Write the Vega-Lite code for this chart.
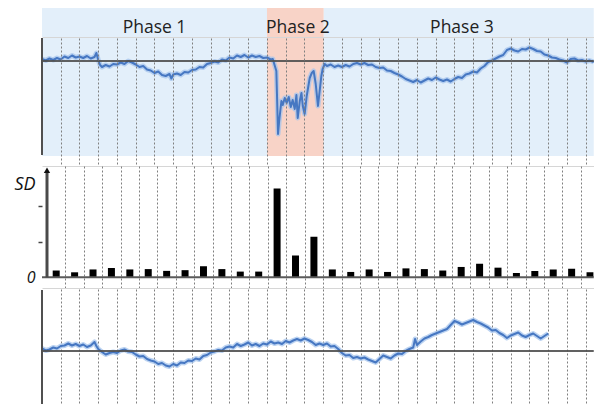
{
  "$schema": "https://vega.github.io/schema/vega-lite/v6.json",
  "background": "white",
  "padding": {"left": 13, "top": 8, "right": 0, "bottom": 0},
  "spacing": 0,
  "config": {
    "view": {"stroke": null},
    "axisX": {
      "tickCount": 30,
      "grid": true, "gridDash": [2, 2], "gridColor": "#7f7f7f", "gridWidth": 1,
      "labels": false, "ticks": false,
      "domainColor": "#d6d6d6", "domainWidth": 1
    }
  },
  "datasets": {
    "one": [{}],
    "phases": [
      {"phase": "Phase 1", "start": 0, "end": 12, "mid": 6.0},
      {"phase": "Phase 2", "start": 12, "end": 15.03, "mid": 13.65},
      {"phase": "Phase 3", "start": 15.03, "end": 29.43, "mid": 22.4}
    ],
    "upper": [
      {"t":0,"v":0.2},{"t":0.2,"v":0.05},{"t":0.4,"v":0.25},{"t":0.6,"v":0.1},{"t":0.8,"v":0.3},{"t":1,"v":0.15},{"t":1.2,"v":0.45},{"t":1.4,"v":0.3},{"t":1.6,"v":0.55},{"t":1.8,"v":0.35},
      {"t":2,"v":0.45},{"t":2.2,"v":0.3},{"t":2.4,"v":0.5},{"t":2.6,"v":0.25},{"t":2.8,"v":0.4},{"t":2.9,"v":0.8},{"t":3,"v":0.1},{"t":3.1,"v":-0.4},{"t":3.2,"v":-0.6},{"t":3.4,"v":-0.4},
      {"t":3.6,"v":-0.55},{"t":3.8,"v":-0.3},{"t":4,"v":-0.35},{"t":4.2,"v":-0.15},{"t":4.4,"v":-0.3},{"t":4.6,"v":0},{"t":4.8,"v":-0.15},{"t":5,"v":-0.35},{"t":5.2,"v":-0.6},{"t":5.4,"v":-0.5},
      {"t":5.6,"v":-0.85},{"t":5.8,"v":-0.95},{"t":6,"v":-1.2},{"t":6.2,"v":-1.05},{"t":6.4,"v":-1.4},{"t":6.6,"v":-1.5},{"t":6.8,"v":-1.3},{"t":6.9,"v":-1.75},{"t":7,"v":-1.35},{"t":7.2,"v":-1.25},
      {"t":7.4,"v":-1.4},{"t":7.6,"v":-1.1},{"t":7.8,"v":-1.15},{"t":8,"v":-0.9},{"t":8.2,"v":-0.85},{"t":8.4,"v":-0.6},{"t":8.6,"v":-0.65},{"t":8.8,"v":-0.3},{"t":9,"v":-0.2},{"t":9.2,"v":-0.05},
      {"t":9.4,"v":-0.15},{"t":9.6,"v":0.15},{"t":9.8,"v":0.05},{"t":10,"v":0.35},{"t":10.2,"v":0.25},{"t":10.4,"v":0.55},{"t":10.6,"v":0.4},{"t":10.8,"v":0.6},{"t":11,"v":0.35},{"t":11.2,"v":0.55},
      {"t":11.4,"v":0.4},{"t":11.6,"v":0.5},{"t":11.8,"v":0.3},{"t":12,"v":0.35},{"t":12.2,"v":0.15},{"t":12.31,"v":0.2},{"t":12.5,"v":-1},{"t":12.59,"v":-7.3},{"t":12.65,"v":-6},{"t":12.77,"v":-4},
      {"t":12.84,"v":-4.4},{"t":12.95,"v":-3.7},{"t":13.05,"v":-4.2},{"t":13.16,"v":-3.6},{"t":13.27,"v":-4.6},{"t":13.37,"v":-3.9},{"t":13.48,"v":-4.8},{"t":13.57,"v":-3.4},{"t":13.64,"v":-5.7},{"t":13.75,"v":-4},
      {"t":13.84,"v":-3.2},{"t":13.91,"v":-4.5},{"t":14.01,"v":-5.3},{"t":14.12,"v":-3.5},{"t":14.28,"v":-1.7},{"t":14.39,"v":-1.2},{"t":14.49,"v":-1},{"t":14.6,"v":-2.3},{"t":14.72,"v":-4.5},{"t":14.81,"v":-3},
      {"t":14.9,"v":-1.5},{"t":14.97,"v":-0.8},{"t":15.08,"v":-0.3},{"t":15.2,"v":-0.5},{"t":15.4,"v":-0.35},{"t":15.6,"v":-0.6},{"t":15.8,"v":-0.45},{"t":16,"v":-0.6},{"t":16.2,"v":-0.4},{"t":16.4,"v":-0.55},
      {"t":16.6,"v":-0.3},{"t":16.8,"v":-0.2},{"t":17,"v":-0.35},{"t":17.2,"v":-0.2},{"t":17.4,"v":-0.4},{"t":17.6,"v":-0.35},{"t":17.8,"v":-0.6},{"t":18,"v":-0.7},{"t":18.2,"v":-0.65},{"t":18.4,"v":-0.95},
      {"t":18.6,"v":-1},{"t":18.8,"v":-1.2},{"t":19,"v":-1.35},{"t":19.2,"v":-1.55},{"t":19.4,"v":-1.8},{"t":19.6,"v":-1.95},{"t":19.8,"v":-2.1},{"t":20,"v":-1.9},{"t":20.2,"v":-2.15},{"t":20.4,"v":-1.95},
      {"t":20.6,"v":-1.75},{"t":20.8,"v":-1.9},{"t":21,"v":-1.65},{"t":21.2,"v":-1.85},{"t":21.4,"v":-2},{"t":21.6,"v":-1.85},{"t":21.8,"v":-2.05},{"t":22,"v":-1.8},{"t":22.2,"v":-1.6},{"t":22.4,"v":-1.7},
      {"t":22.6,"v":-1.35},{"t":22.8,"v":-1.25},{"t":23,"v":-1.05},{"t":23.2,"v":-1.15},{"t":23.4,"v":-0.75},{"t":23.6,"v":-0.5},{"t":23.8,"v":-0.1},{"t":24,"v":0.05},{"t":24.2,"v":0.25},{"t":24.4,"v":0.45},
      {"t":24.6,"v":0.6},{"t":24.8,"v":1.1},{"t":25,"v":1.25},{"t":25.2,"v":1.05},{"t":25.4,"v":0.95},{"t":25.6,"v":1.2},{"t":25.8,"v":1.15},{"t":26,"v":1.35},{"t":26.2,"v":1.2},{"t":26.4,"v":1},
      {"t":26.6,"v":0.95},{"t":26.8,"v":0.65},{"t":27,"v":0.55},{"t":27.2,"v":0.35},{"t":27.4,"v":0.3},{"t":27.6,"v":0.15},{"t":27.8,"v":0.05},{"t":28,"v":-0.15},{"t":28.2,"v":0.2},{"t":28.4,"v":0.25},
      {"t":28.6,"v":0.05},{"t":28.8,"v":0.1},{"t":29,"v":-0.05},{"t":29.2,"v":0.05},{"t":29.43,"v":-0.1}
    ],
    "sd": [
      {"mid":0.5,"sd":0.19},{"mid":1.5,"sd":0.14},{"mid":2.5,"sd":0.22},{"mid":3.5,"sd":0.26},{"mid":4.5,"sd":0.22},
      {"mid":5.5,"sd":0.23},{"mid":6.5,"sd":0.18},{"mid":7.5,"sd":0.2},{"mid":8.5,"sd":0.31},{"mid":9.5,"sd":0.23},
      {"mid":10.5,"sd":0.16},{"mid":11.5,"sd":0.16},{"mid":12.5,"sd":2.49},{"mid":13.5,"sd":0.61},{"mid":14.5,"sd":1.14},
      {"mid":15.5,"sd":0.22},{"mid":16.5,"sd":0.15},{"mid":17.5,"sd":0.22},{"mid":18.5,"sd":0.15},{"mid":19.5,"sd":0.25},
      {"mid":20.5,"sd":0.23},{"mid":21.5,"sd":0.19},{"mid":22.5,"sd":0.29},{"mid":23.5,"sd":0.38},{"mid":24.5,"sd":0.27},
      {"mid":25.5,"sd":0.12},{"mid":26.5,"sd":0.18},{"mid":27.5,"sd":0.22},{"mid":28.5,"sd":0.24},{"mid":29.5,"sd":0.14}
    ],
    "lower": [
      {"t":0,"v":0.25},{"t":0.2,"v":0.05},{"t":0.4,"v":0.15},{"t":0.6,"v":0.35},{"t":0.8,"v":0.25},{"t":1,"v":0.5},{"t":1.2,"v":0.55},{"t":1.4,"v":0.75},{"t":1.6,"v":0.55},{"t":1.8,"v":0.7},
      {"t":2,"v":0.5},{"t":2.2,"v":0.65},{"t":2.4,"v":0.4},{"t":2.6,"v":0.55},{"t":2.8,"v":0.9},{"t":2.9,"v":0.5},{"t":3,"v":0.2},{"t":3.2,"v":-0.1},{"t":3.4,"v":-0.35},{"t":3.6,"v":-0.2},
      {"t":3.8,"v":-0.1},{"t":4,"v":-0.2},{"t":4.2,"v":0.05},{"t":4.4,"v":0.15},{"t":4.6,"v":-0.05},{"t":4.8,"v":-0.1},{"t":5,"v":-0.35},{"t":5.2,"v":-0.55},{"t":5.4,"v":-0.5},{"t":5.6,"v":-0.8},
      {"t":5.8,"v":-0.95},{"t":6,"v":-1.05},{"t":6.2,"v":-1.3},{"t":6.4,"v":-1.2},{"t":6.6,"v":-1.45},{"t":6.8,"v":-1.55},{"t":7,"v":-1.3},{"t":7.2,"v":-1.45},{"t":7.4,"v":-1.15},{"t":7.6,"v":-1.2},
      {"t":7.8,"v":-0.95},{"t":8,"v":-1},{"t":8.2,"v":-0.75},{"t":8.4,"v":-0.85},{"t":8.6,"v":-0.5},{"t":8.8,"v":-0.4},{"t":9,"v":-0.15},{"t":9.2,"v":-0.05},{"t":9.4,"v":0.1},{"t":9.6,"v":0.05},
      {"t":9.8,"v":0.35},{"t":10,"v":0.45},{"t":10.2,"v":0.35},{"t":10.4,"v":0.7},{"t":10.6,"v":0.5},{"t":10.8,"v":0.65},{"t":11,"v":0.85},{"t":11.2,"v":0.55},{"t":11.4,"v":0.7},{"t":11.6,"v":0.5},
      {"t":11.8,"v":0.75},{"t":12,"v":0.65},{"t":12.2,"v":0.95},{"t":12.4,"v":0.75},{"t":12.6,"v":0.85},{"t":12.8,"v":0.7},{"t":13,"v":1},{"t":13.2,"v":0.85},{"t":13.4,"v":1.05},{"t":13.6,"v":1.2},
      {"t":13.8,"v":1.05},{"t":14,"v":1.25},{"t":14.2,"v":1.1},{"t":14.4,"v":0.9},{"t":14.6,"v":0.6},{"t":14.8,"v":0.75},{"t":15,"v":0.6},{"t":15.2,"v":0.75},{"t":15.4,"v":0.45},{"t":15.6,"v":0.5},
      {"t":15.8,"v":0.2},{"t":16,"v":-0.2},{"t":16.2,"v":-0.45},{"t":16.4,"v":-0.4},{"t":16.6,"v":-0.7},{"t":16.8,"v":-0.6},{"t":17,"v":-0.75},{"t":17.2,"v":-0.65},{"t":17.4,"v":-0.85},{"t":17.6,"v":-1},
      {"t":17.8,"v":-1.15},{"t":18,"v":-0.8},{"t":18.2,"v":-0.45},{"t":18.4,"v":-0.6},{"t":18.6,"v":-0.75},{"t":18.8,"v":-0.45},{"t":19,"v":-0.25},{"t":19.2,"v":-0.3},{"t":19.4,"v":0},{"t":19.6,"v":0.2},
      {"t":19.8,"v":0.35},{"t":19.9,"v":1.2},{"t":20,"v":0.6},{"t":20.2,"v":0.95},{"t":20.4,"v":1.25},{"t":20.6,"v":1.4},{"t":20.8,"v":1.6},{"t":21,"v":1.75},{"t":21.2,"v":1.9},{"t":21.4,"v":2.05},
      {"t":21.6,"v":2.2},{"t":21.8,"v":2.6},{"t":22,"v":3},{"t":22.2,"v":2.85},{"t":22.4,"v":2.65},{"t":22.6,"v":2.8},{"t":22.8,"v":2.95},{"t":23,"v":3.1},{"t":23.2,"v":2.9},{"t":23.4,"v":2.75},
      {"t":23.6,"v":2.55},{"t":23.8,"v":2.35},{"t":24,"v":2.05},{"t":24.2,"v":2.1},{"t":24.4,"v":1.8},{"t":24.6,"v":1.6},{"t":24.8,"v":1.3},{"t":25,"v":1.55},{"t":25.2,"v":1.7},{"t":25.4,"v":1.85},
      {"t":25.6,"v":1.55},{"t":25.8,"v":1.4},{"t":26,"v":1.6},{"t":26.2,"v":1.75},{"t":26.4,"v":1.5},{"t":26.6,"v":1.25},{"t":26.8,"v":1.5},{"t":27,"v":1.75}
    ]
  },
  "vconcat": [
    {
      "width": 551.75, "height": 29,
      "layer": [
        {
          "data": {"name": "phases"},
          "mark": {"type": "rect"},
          "encoding": {
            "x": {"field": "start", "type": "quantitative", "title": null, "scale": {"domain": [0, 29.43], "nice": false, "zero": false}, "axis": {"title": null, "grid": false, "values": [1,2,3,4,5,6,7,8,9,10,11,12,13,14,15,16,17,18,19,20,21,22,23,24,25,26,27,28,29]}},
            "x2": {"field": "end"},
            "color": {"field": "phase", "type": "nominal", "scale": {"domain": ["Phase 1", "Phase 2", "Phase 3"], "range": ["#e3effa", "#f8d3c7", "#e3effa"]}, "legend": null}
          }
        },
        {
          "data": {"name": "phases"},
          "mark": {"type": "text", "font": "Open Sans", "fontSize": 17.5, "color": "#222222", "baseline": "alphabetic"},
          "encoding": {
            "x": {"field": "mid", "type": "quantitative", "title": null},
            "y": {"datum": 0.14, "type": "quantitative", "scale": {"domain": [0, 1], "nice": false, "zero": false}, "axis": null},
            "text": {"field": "phase"}
          }
        }
      ]
    },
    {
      "width": 551.75, "height": 128,
      "layer": [
        {
          "data": {"name": "phases"},
          "mark": {"type": "rect"},
          "encoding": {
            "x": {"field": "start", "type": "quantitative", "title": null, "scale": {"domain": [0, 29.43], "nice": false, "zero": false}, "axis": {"title": null, "zindex": 1, "values": [1,2,3,4,5,6,7,8,9,10,11,12,13,14,15,16,17,18,19,20,21,22,23,24,25,26,27,28,29]}},
            "x2": {"field": "end"},
            "y": {"datum": 2.3, "type": "quantitative", "scale": {"domain": [-10.5, 2.3], "nice": false, "zero": false}, "axis": null},
            "y2": {"datum": -9.5},
            "color": {"field": "phase", "type": "nominal", "scale": {"domain": ["Phase 1", "Phase 2", "Phase 3"], "range": ["#e3effa", "#f8d3c7", "#e3effa"]}, "legend": null}
          }
        },
        {
          "data": {"name": "upper"},
          "mark": {"type": "line", "color": "#a6c4ec", "strokeWidth": 5, "opacity": 0.75, "strokeJoin": "round"},
          "encoding": {
            "x": {"field": "t", "type": "quantitative", "title": null},
            "y": {"field": "v", "type": "quantitative", "title": null}
          }
        },
        {
          "data": {"name": "upper"},
          "mark": {"type": "line", "color": "#4677c2", "strokeWidth": 2, "strokeJoin": "round"},
          "encoding": {
            "x": {"field": "t", "type": "quantitative", "title": null},
            "y": {"field": "v", "type": "quantitative", "title": null}
          }
        },
        {
          "data": {"name": "one"},
          "mark": {"type": "rule", "color": "#505050", "strokeWidth": 2, "opacity": 0.9},
          "encoding": {"y": {"datum": 0}}
        },
        {
          "data": {"name": "one"},
          "mark": {"type": "rule", "color": "#505050", "strokeWidth": 2},
          "encoding": {"x": {"datum": 0}, "y": {"datum": 2.3}, "y2": {"datum": -9.4}}
        }
      ]
    },
    {
      "width": 551.75, "height": 122,
      "layer": [
        {
          "data": {"name": "sd"},
          "mark": {"type": "bar", "size": 7, "color": "#000000", "clip": true},
          "encoding": {
            "x": {"field": "mid", "type": "quantitative", "title": null, "scale": {"domain": [0, 29.43], "nice": false, "zero": false}, "axis": {"title": null, "values": [1,2,3,4,5,6,7,8,9,10,11,12,13,14,15,16,17,18,19,20,21,22,23,24,25,26,27,28,29]}},
            "y": {
              "field": "sd", "type": "quantitative",
              "scale": {"domain": [-0.3, 3.12], "nice": false, "zero": false},
              "axis": {
                "values": [0, 1, 2], "domain": false, "grid": false,
                "tickSize": 4, "tickColor": "#444444", "tickWidth": 1.5,
                "tickOpacity": {"condition": {"test": "datum.value == 0", "value": 0}, "value": 1},
                "labelExpr": "datum.value == 0 ? '0' : ''",
                "labelFont": "Open Sans", "labelFontStyle": "italic", "labelFontSize": 16, "labelColor": "#111111",
                "labelPadding": 3, "labelBaseline": "middle",
                "title": "SD", "titleFont": "Open Sans", "titleFontStyle": "italic", "titleFontWeight": "normal",
                "titleFontSize": 18, "titleColor": "#111111", "titleAngle": 0, "titleAlign": "right",
                "titleBaseline": "middle", "titleX": -7, "titleY": 18
              }
            },
            "y2": {"datum": 0}
          }
        },
        {
          "data": {"name": "one"},
          "mark": {"type": "rule", "color": "#5a5a5a", "strokeWidth": 2},
          "encoding": {"y": {"datum": 0}}
        },
        {
          "data": {"name": "one"},
          "mark": {"type": "rule", "color": "#4a4a4a", "strokeWidth": 3},
          "encoding": {"x": {"datum": 0}, "y": {"datum": 0}, "y2": {"datum": 2.95}}
        },
        {
          "data": {"name": "one"},
          "mark": {"type": "point", "shape": "triangle-up", "filled": true, "size": 40, "color": "#111111", "opacity": 1},
          "encoding": {"x": {"datum": 0}, "y": {"datum": 3.0}}
        }
      ]
    },
    {
      "width": 551.75, "height": 117,
      "layer": [
        {
          "data": {"name": "lower"},
          "mark": {"type": "line", "color": "#a6c4ec", "strokeWidth": 5, "opacity": 0.75, "strokeJoin": "round"},
          "encoding": {
            "x": {"field": "t", "type": "quantitative", "title": null, "scale": {"domain": [0, 29.43], "nice": false, "zero": false}, "axis": {"title": null, "domain": false, "values": [1,2,3,4,5,6,7,8,9,10,11,12,13,14,15,16,17,18,19,20,21,22,23,24,25,26,27,28,29]}},
            "y": {"field": "v", "type": "quantitative", "scale": {"domain": [-5.5, 6.2], "nice": false, "zero": false}, "axis": null}
          }
        },
        {
          "data": {"name": "lower"},
          "mark": {"type": "line", "color": "#4677c2", "strokeWidth": 2, "strokeJoin": "round"},
          "encoding": {
            "x": {"field": "t", "type": "quantitative", "title": null},
            "y": {"field": "v", "type": "quantitative", "title": null}
          }
        },
        {
          "data": {"name": "one"},
          "mark": {"type": "rule", "color": "#505050", "strokeWidth": 2, "opacity": 0.9},
          "encoding": {"y": {"datum": 0}}
        },
        {
          "data": {"name": "one"},
          "mark": {"type": "rule", "color": "#505050", "strokeWidth": 2},
          "encoding": {"x": {"datum": 0}, "y": {"datum": 6.1}, "y2": {"datum": -5.5}}
        }
      ]
    }
  ]
}
